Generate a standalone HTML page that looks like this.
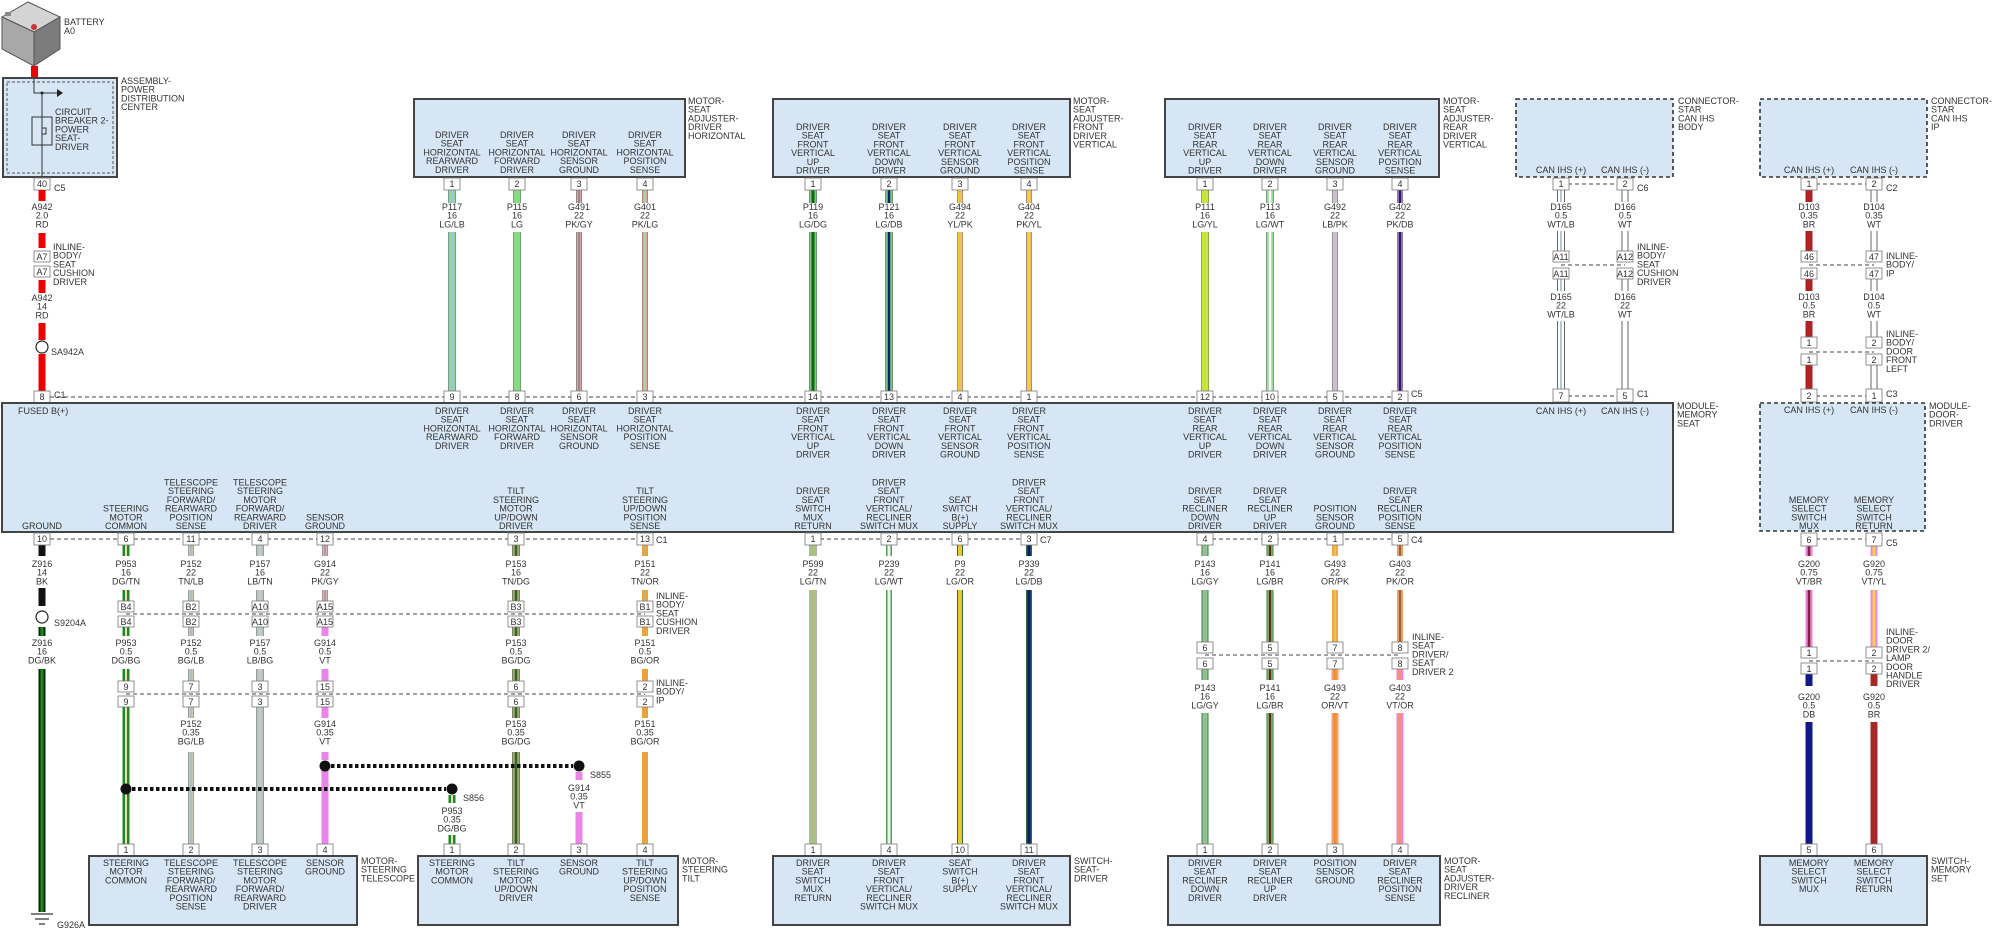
<!DOCTYPE html>
<html><head><meta charset="utf-8"><style>
html,body{margin:0;padding:0;background:#fff}
svg{display:block}
text{font-family:"Liberation Sans",sans-serif;font-size:9px;fill:#333}
.c{text-anchor:middle}
.bx{fill:#d6e6f5;stroke:#444;stroke-width:2}
.dbx{fill:#d6e6f5;stroke:#333;stroke-width:1.6;stroke-dasharray:4 3}
.pin{fill:#fff;stroke:#777;stroke-width:.8}
.dl{stroke:#444;stroke-width:1;stroke-dasharray:4 3;fill:none}
.ol{fill:none;stroke:#666}
.w{fill:none}
</style></head><body>
<svg width="1996" height="930" viewBox="0 0 1996 930" xmlns="http://www.w3.org/2000/svg">
<!-- Battery -->
<polygon points="2,17 28,2 60,17 34,32" fill="#d4d4d4" stroke="#555"/>
<polygon points="2,17 34,32 34,66 2,49" fill="#a8a8a8" stroke="#555"/>
<polygon points="34,32 60,17 60,49 34,66" fill="#7c7c7c" stroke="#555"/>
<circle cx="34" cy="27" r="3" fill="#c33"/>
<rect x="5" y="12" width="6" height="4" fill="#888"/>
<text x="64" y="25">BATTERY</text><text x="64" y="34">A0</text>
<rect x="31" y="66" width="7" height="12" fill="#e00"/>
<!-- PDC -->
<rect x="3" y="78" width="114" height="99" class="bx"/>
<rect x="7" y="82" width="106" height="91" fill="none" stroke="#555" stroke-dasharray="3 2"/>
<path d="M34 78V93H58M42 93V177" stroke="#333" fill="none"/>
<polygon points="57,89 63,93 57,97" fill="#222"/>
<circle cx="42" cy="93" r="1.5" fill="#222"/>
<rect x="32" y="117" width="20" height="28" fill="none" stroke="#333"/>
<path d="M42 117V128H46V134H42V145" stroke="#333" fill="none"/>
<text><tspan x="55" y="115">CIRCUIT</tspan><tspan x="55" dy="8.7">BREAKER 2-</tspan><tspan x="55" dy="8.7">POWER</tspan><tspan x="55" dy="8.7">SEAT-</tspan><tspan x="55" dy="8.7">DRIVER</tspan></text>
<text><tspan x="121" y="84">ASSEMBLY-</tspan><tspan x="121" dy="8.7">POWER</tspan><tspan x="121" dy="8.7">DISTRIBUTION</tspan><tspan x="121" dy="8.7">CENTER</tspan></text>
<!-- left power wire -->
<rect x="34" y="178" width="16" height="12" class="pin"/><text x="42" y="187" class="c">40</text><text x="54" y="191">C5</text>
<path d="M42 190V201M42 233V248M42 280V293M42 323V340M42 354V391" stroke="#e00" stroke-width="7" class="w"/>
<text class="c"><tspan x="42" y="210">A942</tspan><tspan x="42" dy="8.7">2.0</tspan><tspan x="42" dy="8.7">RD</tspan></text>
<rect x="34" y="251" width="16" height="11" class="pin"/><text x="42" y="260" class="c">A7</text>
<rect x="34" y="266" width="16" height="11" class="pin"/><text x="42" y="275" class="c">A7</text>
<text><tspan x="53" y="250">INLINE-</tspan><tspan x="53" dy="8.7">BODY/</tspan><tspan x="53" dy="8.7">SEAT</tspan><tspan x="53" dy="8.7">CUSHION</tspan><tspan x="53" dy="8.7">DRIVER</tspan></text>
<text class="c"><tspan x="42" y="301">A942</tspan><tspan x="42" dy="8.7">14</tspan><tspan x="42" dy="8.7">RD</tspan></text>
<circle cx="42" cy="347" r="6" fill="#fff" stroke="#222" stroke-width="1.2"/><text x="51" y="355">SA942A</text>
<rect x="34" y="391" width="16" height="12" class="pin"/><text x="42" y="400" class="c">8</text><text x="54" y="398">C1</text>

<!-- Motor boxes top -->
<rect x="414" y="99" width="271" height="78" class="bx"/>
<rect x="773" y="99" width="297" height="78" class="bx"/>
<rect x="1165" y="99" width="274" height="78" class="bx"/>
<rect x="1516" y="99" width="157" height="78" class="dbx"/>
<rect x="1760" y="99" width="167" height="78" class="dbx"/>
<text><tspan x="688" y="104">MOTOR-</tspan><tspan x="688" dy="8.7">SEAT</tspan><tspan x="688" dy="8.7">ADJUSTER-</tspan><tspan x="688" dy="8.7">DRIVER</tspan><tspan x="688" dy="8.7">HORIZONTAL</tspan></text>
<text><tspan x="1073" y="104">MOTOR-</tspan><tspan x="1073" dy="8.7">SEAT</tspan><tspan x="1073" dy="8.7">ADJUSTER-</tspan><tspan x="1073" dy="8.7">FRONT</tspan><tspan x="1073" dy="8.7">DRIVER</tspan><tspan x="1073" dy="8.7">VERTICAL</tspan></text>
<text><tspan x="1443" y="104">MOTOR-</tspan><tspan x="1443" dy="8.7">SEAT</tspan><tspan x="1443" dy="8.7">ADJUSTER-</tspan><tspan x="1443" dy="8.7">REAR</tspan><tspan x="1443" dy="8.7">DRIVER</tspan><tspan x="1443" dy="8.7">VERTICAL</tspan></text>
<text><tspan x="1678" y="104">CONNECTOR-</tspan><tspan x="1678" dy="8.7">STAR</tspan><tspan x="1678" dy="8.7">CAN IHS</tspan><tspan x="1678" dy="8.7">BODY</tspan></text>
<text><tspan x="1931" y="104">CONNECTOR-</tspan><tspan x="1931" dy="8.7">STAR</tspan><tspan x="1931" dy="8.7">CAN IHS</tspan><tspan x="1931" dy="8.7">IP</tspan></text>

<!-- horizontal motor labels -->
<text class="c"><tspan x="452" y="138">DRIVER</tspan><tspan x="452" dy="8.7">SEAT</tspan><tspan x="452" dy="8.7">HORIZONTAL</tspan><tspan x="452" dy="8.7">REARWARD</tspan><tspan x="452" dy="8.7">DRIVER</tspan></text>
<text class="c"><tspan x="517" y="138">DRIVER</tspan><tspan x="517" dy="8.7">SEAT</tspan><tspan x="517" dy="8.7">HORIZONTAL</tspan><tspan x="517" dy="8.7">FORWARD</tspan><tspan x="517" dy="8.7">DRIVER</tspan></text>
<text class="c"><tspan x="579" y="138">DRIVER</tspan><tspan x="579" dy="8.7">SEAT</tspan><tspan x="579" dy="8.7">HORIZONTAL</tspan><tspan x="579" dy="8.7">SENSOR</tspan><tspan x="579" dy="8.7">GROUND</tspan></text>
<text class="c"><tspan x="645" y="138">DRIVER</tspan><tspan x="645" dy="8.7">SEAT</tspan><tspan x="645" dy="8.7">HORIZONTAL</tspan><tspan x="645" dy="8.7">POSITION</tspan><tspan x="645" dy="8.7">SENSE</tspan></text>
<!-- front vertical labels -->
<text class="c"><tspan x="813" y="130">DRIVER</tspan><tspan x="813" dy="8.7">SEAT</tspan><tspan x="813" dy="8.7">FRONT</tspan><tspan x="813" dy="8.7">VERTICAL</tspan><tspan x="813" dy="8.7">UP</tspan><tspan x="813" dy="8.7">DRIVER</tspan></text>
<text class="c"><tspan x="889" y="130">DRIVER</tspan><tspan x="889" dy="8.7">SEAT</tspan><tspan x="889" dy="8.7">FRONT</tspan><tspan x="889" dy="8.7">VERTICAL</tspan><tspan x="889" dy="8.7">DOWN</tspan><tspan x="889" dy="8.7">DRIVER</tspan></text>
<text class="c"><tspan x="960" y="130">DRIVER</tspan><tspan x="960" dy="8.7">SEAT</tspan><tspan x="960" dy="8.7">FRONT</tspan><tspan x="960" dy="8.7">VERTICAL</tspan><tspan x="960" dy="8.7">SENSOR</tspan><tspan x="960" dy="8.7">GROUND</tspan></text>
<text class="c"><tspan x="1029" y="130">DRIVER</tspan><tspan x="1029" dy="8.7">SEAT</tspan><tspan x="1029" dy="8.7">FRONT</tspan><tspan x="1029" dy="8.7">VERTICAL</tspan><tspan x="1029" dy="8.7">POSITION</tspan><tspan x="1029" dy="8.7">SENSE</tspan></text>
<!-- rear vertical labels -->
<text class="c"><tspan x="1205" y="130">DRIVER</tspan><tspan x="1205" dy="8.7">SEAT</tspan><tspan x="1205" dy="8.7">REAR</tspan><tspan x="1205" dy="8.7">VERTICAL</tspan><tspan x="1205" dy="8.7">UP</tspan><tspan x="1205" dy="8.7">DRIVER</tspan></text>
<text class="c"><tspan x="1270" y="130">DRIVER</tspan><tspan x="1270" dy="8.7">SEAT</tspan><tspan x="1270" dy="8.7">REAR</tspan><tspan x="1270" dy="8.7">VERTICAL</tspan><tspan x="1270" dy="8.7">DOWN</tspan><tspan x="1270" dy="8.7">DRIVER</tspan></text>
<text class="c"><tspan x="1335" y="130">DRIVER</tspan><tspan x="1335" dy="8.7">SEAT</tspan><tspan x="1335" dy="8.7">REAR</tspan><tspan x="1335" dy="8.7">VERTICAL</tspan><tspan x="1335" dy="8.7">SENSOR</tspan><tspan x="1335" dy="8.7">GROUND</tspan></text>
<text class="c"><tspan x="1400" y="130">DRIVER</tspan><tspan x="1400" dy="8.7">SEAT</tspan><tspan x="1400" dy="8.7">REAR</tspan><tspan x="1400" dy="8.7">VERTICAL</tspan><tspan x="1400" dy="8.7">POSITION</tspan><tspan x="1400" dy="8.7">SENSE</tspan></text>
<text class="c" x="1561" y="173">CAN IHS (+)</text><text class="c" x="1625" y="173">CAN IHS (-)</text>
<text class="c" x="1809" y="173">CAN IHS (+)</text><text class="c" x="1874" y="173">CAN IHS (-)</text>

<!-- upper dashed rows -->
<path d="M50 397H1400" class="dl"/>
<path d="M1561 184H1625M1561 265H1625M1561 396H1625M1809 184H1874M1809 265H1874M1809 352H1874M1809 396H1874" class="dl"/>

<!-- upper wires -->
<g class="w">
<path d="M452 190V203M452 232V391" stroke="#666" stroke-width="8"/><path d="M452 190V203M452 232V391" stroke="#8fd6a4" stroke-width="7"/><path d="M452 190V203M452 232V391" stroke="#9cc8dc" stroke-width="2"/>
<path d="M517 190V203M517 232V391" stroke="#666" stroke-width="8"/><path d="M517 190V203M517 232V391" stroke="#86dc80" stroke-width="7"/>
<path d="M579 190V203M579 232V391" stroke="#666" stroke-width="6"/><path d="M579 190V203M579 232V391" stroke="#d8a0a8" stroke-width="5"/><path d="M579 190V203M579 232V391" stroke="#888" stroke-width="1.6"/>
<path d="M645 190V203M645 232V391" stroke="#666" stroke-width="6"/><path d="M645 190V203M645 232V391" stroke="#e0a8a8" stroke-width="5"/><path d="M645 190V203M645 232V391" stroke="#a8d890" stroke-width="2"/>
<path d="M813 190V203M813 232V391" stroke="#666" stroke-width="8"/><path d="M813 190V203M813 232V391" stroke="#7cc87c" stroke-width="7"/><path d="M813 190V203M813 232V391" stroke="#0c6a10" stroke-width="3"/>
<path d="M889 190V203M889 232V391" stroke="#666" stroke-width="8"/><path d="M889 190V203M889 232V391" stroke="#7cc87c" stroke-width="7"/><path d="M889 190V203M889 232V391" stroke="#10207a" stroke-width="2.5"/>
<path d="M960 190V203M960 232V391" stroke="#666" stroke-width="6"/><path d="M960 190V203M960 232V391" stroke="#f6d030" stroke-width="5"/><path d="M960 190V203M960 232V391" stroke="#e8a8a0" stroke-width="1.5"/>
<path d="M1029 190V203M1029 232V391" stroke="#666" stroke-width="6"/><path d="M1029 190V203M1029 232V391" stroke="#f0b0a0" stroke-width="5"/><path d="M1029 190V203M1029 232V391" stroke="#f6d030" stroke-width="3"/>
<path d="M1205 190V203M1205 232V391" stroke="#666" stroke-width="8"/><path d="M1205 190V203M1205 232V391" stroke="#c6e63c" stroke-width="7"/>
<path d="M1270 190V203M1270 232V391" stroke="#666" stroke-width="8"/><path d="M1270 190V203M1270 232V391" stroke="#98d898" stroke-width="7"/><path d="M1270 190V203M1270 232V391" stroke="#fff" stroke-width="2.5"/>
<path d="M1335 190V203M1335 232V391" stroke="#666" stroke-width="6"/><path d="M1335 190V203M1335 232V391" stroke="#c4c4d4" stroke-width="5"/><path d="M1335 190V203M1335 232V391" stroke="#e4b4c4" stroke-width="1.5"/>
<path d="M1400 190V203M1400 232V391" stroke="#666" stroke-width="6"/><path d="M1400 190V203M1400 232V391" stroke="#c090c0" stroke-width="5"/><path d="M1400 190V203M1400 232V391" stroke="#2a1480" stroke-width="2.5"/>
<!-- CAN body -->
<path d="M1561 190V202M1561 231V251M1561 278V291M1561 321V389" stroke="#666" stroke-width="8"/><path d="M1561 190V202M1561 231V251M1561 278V291M1561 321V389" stroke="#fff" stroke-width="6"/><path d="M1561 190V202M1561 231V251M1561 278V291M1561 321V389" stroke="#a8ccd8" stroke-width="2"/>
<path d="M1625 190V202M1625 231V251M1625 278V291M1625 321V389" stroke="#666" stroke-width="7"/><path d="M1625 190V202M1625 231V251M1625 278V291M1625 321V389" stroke="#fff" stroke-width="5"/>
<!-- CAN IP -->
<path d="M1809 190V202M1809 231V251M1809 278V291M1809 321V337M1809 365V389" stroke="#b02024" stroke-width="7"/>
<path d="M1874 190V202M1874 231V251M1874 278V291M1874 321V337M1874 365V389" stroke="#666" stroke-width="7"/><path d="M1874 190V202M1874 231V251M1874 278V291M1874 321V337M1874 365V389" stroke="#fff" stroke-width="5"/>
</g>
<!-- upper pins -->
<g>
<rect x="444" y="178" width="16" height="12" class="pin"/><text x="452" y="187" class="c">1</text>
<rect x="509" y="178" width="16" height="12" class="pin"/><text x="517" y="187" class="c">2</text>
<rect x="571" y="178" width="16" height="12" class="pin"/><text x="579" y="187" class="c">3</text>
<rect x="637" y="178" width="16" height="12" class="pin"/><text x="645" y="187" class="c">4</text>
<rect x="805" y="178" width="16" height="12" class="pin"/><text x="813" y="187" class="c">1</text>
<rect x="881" y="178" width="16" height="12" class="pin"/><text x="889" y="187" class="c">2</text>
<rect x="952" y="178" width="16" height="12" class="pin"/><text x="960" y="187" class="c">3</text>
<rect x="1021" y="178" width="16" height="12" class="pin"/><text x="1029" y="187" class="c">4</text>
<rect x="1197" y="178" width="16" height="12" class="pin"/><text x="1205" y="187" class="c">1</text>
<rect x="1262" y="178" width="16" height="12" class="pin"/><text x="1270" y="187" class="c">2</text>
<rect x="1327" y="178" width="16" height="12" class="pin"/><text x="1335" y="187" class="c">3</text>
<rect x="1392" y="178" width="16" height="12" class="pin"/><text x="1400" y="187" class="c">4</text>
<rect x="1553" y="178" width="16" height="12" class="pin"/><text x="1561" y="187" class="c">1</text>
<rect x="1617" y="178" width="16" height="12" class="pin"/><text x="1625" y="187" class="c">2</text><text x="1637" y="191">C6</text>
<rect x="1801" y="178" width="16" height="12" class="pin"/><text x="1809" y="187" class="c">1</text>
<rect x="1866" y="178" width="16" height="12" class="pin"/><text x="1874" y="187" class="c">2</text><text x="1886" y="191">C2</text>

<rect x="444" y="391" width="16" height="12" class="pin"/><text x="452" y="400" class="c">9</text>
<rect x="509" y="391" width="16" height="12" class="pin"/><text x="517" y="400" class="c">8</text>
<rect x="571" y="391" width="16" height="12" class="pin"/><text x="579" y="400" class="c">6</text>
<rect x="637" y="391" width="16" height="12" class="pin"/><text x="645" y="400" class="c">3</text>
<rect x="805" y="391" width="16" height="12" class="pin"/><text x="813" y="400" class="c">14</text>
<rect x="881" y="391" width="16" height="12" class="pin"/><text x="889" y="400" class="c">13</text>
<rect x="952" y="391" width="16" height="12" class="pin"/><text x="960" y="400" class="c">4</text>
<rect x="1021" y="391" width="16" height="12" class="pin"/><text x="1029" y="400" class="c">1</text>
<rect x="1197" y="391" width="16" height="12" class="pin"/><text x="1205" y="400" class="c">12</text>
<rect x="1262" y="391" width="16" height="12" class="pin"/><text x="1270" y="400" class="c">10</text>
<rect x="1327" y="391" width="16" height="12" class="pin"/><text x="1335" y="400" class="c">5</text>
<rect x="1392" y="391" width="16" height="12" class="pin"/><text x="1400" y="400" class="c">2</text><text x="1411" y="397">C5</text>
<rect x="1553" y="389" width="16" height="13" class="pin"/><text x="1561" y="399" class="c">7</text>
<rect x="1617" y="389" width="16" height="13" class="pin"/><text x="1625" y="399" class="c">5</text><text x="1637" y="397">C1</text>
<rect x="1801" y="389" width="16" height="13" class="pin"/><text x="1809" y="399" class="c">2</text>
<rect x="1866" y="389" width="16" height="13" class="pin"/><text x="1874" y="399" class="c">1</text><text x="1886" y="397">C3</text>
<!-- CAN inline -->
<rect x="1553" y="251" width="16" height="11" class="pin"/><text x="1561" y="260" class="c">A11</text>
<rect x="1553" y="268" width="16" height="11" class="pin"/><text x="1561" y="277" class="c">A11</text>
<rect x="1617" y="251" width="16" height="11" class="pin"/><text x="1625" y="260" class="c">A12</text>
<rect x="1617" y="268" width="16" height="11" class="pin"/><text x="1625" y="277" class="c">A12</text>
<rect x="1801" y="251" width="16" height="11" class="pin"/><text x="1809" y="260" class="c">46</text>
<rect x="1801" y="268" width="16" height="11" class="pin"/><text x="1809" y="277" class="c">46</text>
<rect x="1866" y="251" width="16" height="11" class="pin"/><text x="1874" y="260" class="c">47</text>
<rect x="1866" y="268" width="16" height="11" class="pin"/><text x="1874" y="277" class="c">47</text>
<rect x="1801" y="337" width="16" height="11" class="pin"/><text x="1809" y="346" class="c">1</text>
<rect x="1801" y="354" width="16" height="11" class="pin"/><text x="1809" y="363" class="c">1</text>
<rect x="1866" y="337" width="16" height="11" class="pin"/><text x="1874" y="346" class="c">2</text>
<rect x="1866" y="354" width="16" height="11" class="pin"/><text x="1874" y="363" class="c">2</text>
</g>
<text><tspan x="1637" y="250">INLINE-</tspan><tspan x="1637" dy="8.7">BODY/</tspan><tspan x="1637" dy="8.7">SEAT</tspan><tspan x="1637" dy="8.7">CUSHION</tspan><tspan x="1637" dy="8.7">DRIVER</tspan></text>
<text><tspan x="1886" y="259">INLINE-</tspan><tspan x="1886" dy="8.7">BODY/</tspan><tspan x="1886" dy="8.7">IP</tspan></text>
<text><tspan x="1886" y="337">INLINE-</tspan><tspan x="1886" dy="8.7">BODY/</tspan><tspan x="1886" dy="8.7">DOOR</tspan><tspan x="1886" dy="8.7">FRONT</tspan><tspan x="1886" dy="8.7">LEFT</tspan></text>

<!-- upper wire labels -->
<g class="c">
<text><tspan x="452" y="210">P117</tspan><tspan x="452" dy="8.7">16</tspan><tspan x="452" dy="8.7">LG/LB</tspan></text>
<text><tspan x="517" y="210">P115</tspan><tspan x="517" dy="8.7">16</tspan><tspan x="517" dy="8.7">LG</tspan></text>
<text><tspan x="579" y="210">G491</tspan><tspan x="579" dy="8.7">22</tspan><tspan x="579" dy="8.7">PK/GY</tspan></text>
<text><tspan x="645" y="210">G401</tspan><tspan x="645" dy="8.7">22</tspan><tspan x="645" dy="8.7">PK/LG</tspan></text>
<text><tspan x="813" y="210">P119</tspan><tspan x="813" dy="8.7">16</tspan><tspan x="813" dy="8.7">LG/DG</tspan></text>
<text><tspan x="889" y="210">P121</tspan><tspan x="889" dy="8.7">16</tspan><tspan x="889" dy="8.7">LG/DB</tspan></text>
<text><tspan x="960" y="210">G494</tspan><tspan x="960" dy="8.7">22</tspan><tspan x="960" dy="8.7">YL/PK</tspan></text>
<text><tspan x="1029" y="210">G404</tspan><tspan x="1029" dy="8.7">22</tspan><tspan x="1029" dy="8.7">PK/YL</tspan></text>
<text><tspan x="1205" y="210">P111</tspan><tspan x="1205" dy="8.7">16</tspan><tspan x="1205" dy="8.7">LG/YL</tspan></text>
<text><tspan x="1270" y="210">P113</tspan><tspan x="1270" dy="8.7">16</tspan><tspan x="1270" dy="8.7">LG/WT</tspan></text>
<text><tspan x="1335" y="210">G492</tspan><tspan x="1335" dy="8.7">22</tspan><tspan x="1335" dy="8.7">LB/PK</tspan></text>
<text><tspan x="1400" y="210">G402</tspan><tspan x="1400" dy="8.7">22</tspan><tspan x="1400" dy="8.7">PK/DB</tspan></text>
<text><tspan x="1561" y="210">D165</tspan><tspan x="1561" dy="8.7">0.5</tspan><tspan x="1561" dy="8.7">WT/LB</tspan></text>
<text><tspan x="1625" y="210">D166</tspan><tspan x="1625" dy="8.7">0.5</tspan><tspan x="1625" dy="8.7">WT</tspan></text>
<text><tspan x="1809" y="210">D103</tspan><tspan x="1809" dy="8.7">0.35</tspan><tspan x="1809" dy="8.7">BR</tspan></text>
<text><tspan x="1874" y="210">D104</tspan><tspan x="1874" dy="8.7">0.35</tspan><tspan x="1874" dy="8.7">WT</tspan></text>
<text><tspan x="1561" y="300">D165</tspan><tspan x="1561" dy="8.7">22</tspan><tspan x="1561" dy="8.7">WT/LB</tspan></text>
<text><tspan x="1625" y="300">D166</tspan><tspan x="1625" dy="8.7">22</tspan><tspan x="1625" dy="8.7">WT</tspan></text>
<text><tspan x="1809" y="300">D103</tspan><tspan x="1809" dy="8.7">0.5</tspan><tspan x="1809" dy="8.7">BR</tspan></text>
<text><tspan x="1874" y="300">D104</tspan><tspan x="1874" dy="8.7">0.5</tspan><tspan x="1874" dy="8.7">WT</tspan></text>
</g>

<!-- Module memory seat -->
<rect x="2" y="403" width="1671" height="129" class="bx"/>
<text><tspan x="1677" y="409">MODULE-</tspan><tspan x="1677" dy="8.7">MEMORY</tspan><tspan x="1677" dy="8.7">SEAT</tspan></text>
<text x="18" y="414">FUSED B(+)</text>
<text class="c" x="42" y="529">GROUND</text>
<g class="c">
<text><tspan x="452" y="414">DRIVER</tspan><tspan x="452" dy="8.7">SEAT</tspan><tspan x="452" dy="8.7">HORIZONTAL</tspan><tspan x="452" dy="8.7">REARWARD</tspan><tspan x="452" dy="8.7">DRIVER</tspan></text>
<text><tspan x="517" y="414">DRIVER</tspan><tspan x="517" dy="8.7">SEAT</tspan><tspan x="517" dy="8.7">HORIZONTAL</tspan><tspan x="517" dy="8.7">FORWARD</tspan><tspan x="517" dy="8.7">DRIVER</tspan></text>
<text><tspan x="579" y="414">DRIVER</tspan><tspan x="579" dy="8.7">SEAT</tspan><tspan x="579" dy="8.7">HORIZONTAL</tspan><tspan x="579" dy="8.7">SENSOR</tspan><tspan x="579" dy="8.7">GROUND</tspan></text>
<text><tspan x="645" y="414">DRIVER</tspan><tspan x="645" dy="8.7">SEAT</tspan><tspan x="645" dy="8.7">HORIZONTAL</tspan><tspan x="645" dy="8.7">POSITION</tspan><tspan x="645" dy="8.7">SENSE</tspan></text>
<text><tspan x="813" y="414">DRIVER</tspan><tspan x="813" dy="8.7">SEAT</tspan><tspan x="813" dy="8.7">FRONT</tspan><tspan x="813" dy="8.7">VERTICAL</tspan><tspan x="813" dy="8.7">UP</tspan><tspan x="813" dy="8.7">DRIVER</tspan></text>
<text><tspan x="889" y="414">DRIVER</tspan><tspan x="889" dy="8.7">SEAT</tspan><tspan x="889" dy="8.7">FRONT</tspan><tspan x="889" dy="8.7">VERTICAL</tspan><tspan x="889" dy="8.7">DOWN</tspan><tspan x="889" dy="8.7">DRIVER</tspan></text>
<text><tspan x="960" y="414">DRIVER</tspan><tspan x="960" dy="8.7">SEAT</tspan><tspan x="960" dy="8.7">FRONT</tspan><tspan x="960" dy="8.7">VERTICAL</tspan><tspan x="960" dy="8.7">SENSOR</tspan><tspan x="960" dy="8.7">GROUND</tspan></text>
<text><tspan x="1029" y="414">DRIVER</tspan><tspan x="1029" dy="8.7">SEAT</tspan><tspan x="1029" dy="8.7">FRONT</tspan><tspan x="1029" dy="8.7">VERTICAL</tspan><tspan x="1029" dy="8.7">POSITION</tspan><tspan x="1029" dy="8.7">SENSE</tspan></text>
<text><tspan x="1205" y="414">DRIVER</tspan><tspan x="1205" dy="8.7">SEAT</tspan><tspan x="1205" dy="8.7">REAR</tspan><tspan x="1205" dy="8.7">VERTICAL</tspan><tspan x="1205" dy="8.7">UP</tspan><tspan x="1205" dy="8.7">DRIVER</tspan></text>
<text><tspan x="1270" y="414">DRIVER</tspan><tspan x="1270" dy="8.7">SEAT</tspan><tspan x="1270" dy="8.7">REAR</tspan><tspan x="1270" dy="8.7">VERTICAL</tspan><tspan x="1270" dy="8.7">DOWN</tspan><tspan x="1270" dy="8.7">DRIVER</tspan></text>
<text><tspan x="1335" y="414">DRIVER</tspan><tspan x="1335" dy="8.7">SEAT</tspan><tspan x="1335" dy="8.7">REAR</tspan><tspan x="1335" dy="8.7">VERTICAL</tspan><tspan x="1335" dy="8.7">SENSOR</tspan><tspan x="1335" dy="8.7">GROUND</tspan></text>
<text><tspan x="1400" y="414">DRIVER</tspan><tspan x="1400" dy="8.7">SEAT</tspan><tspan x="1400" dy="8.7">REAR</tspan><tspan x="1400" dy="8.7">VERTICAL</tspan><tspan x="1400" dy="8.7">POSITION</tspan><tspan x="1400" dy="8.7">SENSE</tspan></text>
<text x="1561" y="414">CAN IHS (+)</text><text x="1625" y="414">CAN IHS (-)</text>
<!-- lower module labels -->
<text><tspan x="126" y="511.6">STEERING</tspan><tspan x="126" dy="8.7">MOTOR</tspan><tspan x="126" dy="8.7">COMMON</tspan></text>
<text><tspan x="191" y="485.5">TELESCOPE</tspan><tspan x="191" dy="8.7">STEERING</tspan><tspan x="191" dy="8.7">FORWARD/</tspan><tspan x="191" dy="8.7">REARWARD</tspan><tspan x="191" dy="8.7">POSITION</tspan><tspan x="191" dy="8.7">SENSE</tspan></text>
<text><tspan x="260" y="485.5">TELESCOPE</tspan><tspan x="260" dy="8.7">STEERING</tspan><tspan x="260" dy="8.7">MOTOR</tspan><tspan x="260" dy="8.7">FORWARD/</tspan><tspan x="260" dy="8.7">REARWARD</tspan><tspan x="260" dy="8.7">DRIVER</tspan></text>
<text><tspan x="325" y="520.3">SENSOR</tspan><tspan x="325" dy="8.7">GROUND</tspan></text>
<text><tspan x="516" y="494.2">TILT</tspan><tspan x="516" dy="8.7">STEERING</tspan><tspan x="516" dy="8.7">MOTOR</tspan><tspan x="516" dy="8.7">UP/DOWN</tspan><tspan x="516" dy="8.7">DRIVER</tspan></text>
<text><tspan x="645" y="494.2">TILT</tspan><tspan x="645" dy="8.7">STEERING</tspan><tspan x="645" dy="8.7">UP/DOWN</tspan><tspan x="645" dy="8.7">POSITION</tspan><tspan x="645" dy="8.7">SENSE</tspan></text>
<text><tspan x="813" y="494.2">DRIVER</tspan><tspan x="813" dy="8.7">SEAT</tspan><tspan x="813" dy="8.7">SWITCH</tspan><tspan x="813" dy="8.7">MUX</tspan><tspan x="813" dy="8.7">RETURN</tspan></text>
<text><tspan x="889" y="485.5">DRIVER</tspan><tspan x="889" dy="8.7">SEAT</tspan><tspan x="889" dy="8.7">FRONT</tspan><tspan x="889" dy="8.7">VERTICAL/</tspan><tspan x="889" dy="8.7">RECLINER</tspan><tspan x="889" dy="8.7">SWITCH MUX</tspan></text>
<text><tspan x="960" y="502.9">SEAT</tspan><tspan x="960" dy="8.7">SWITCH</tspan><tspan x="960" dy="8.7">B(+)</tspan><tspan x="960" dy="8.7">SUPPLY</tspan></text>
<text><tspan x="1029" y="485.5">DRIVER</tspan><tspan x="1029" dy="8.7">SEAT</tspan><tspan x="1029" dy="8.7">FRONT</tspan><tspan x="1029" dy="8.7">VERTICAL/</tspan><tspan x="1029" dy="8.7">RECLINER</tspan><tspan x="1029" dy="8.7">SWITCH MUX</tspan></text>
<text><tspan x="1205" y="494.2">DRIVER</tspan><tspan x="1205" dy="8.7">SEAT</tspan><tspan x="1205" dy="8.7">RECLINER</tspan><tspan x="1205" dy="8.7">DOWN</tspan><tspan x="1205" dy="8.7">DRIVER</tspan></text>
<text><tspan x="1270" y="494.2">DRIVER</tspan><tspan x="1270" dy="8.7">SEAT</tspan><tspan x="1270" dy="8.7">RECLINER</tspan><tspan x="1270" dy="8.7">UP</tspan><tspan x="1270" dy="8.7">DRIVER</tspan></text>
<text><tspan x="1335" y="511.6">POSITION</tspan><tspan x="1335" dy="8.7">SENSOR</tspan><tspan x="1335" dy="8.7">GROUND</tspan></text>
<text><tspan x="1400" y="494.2">DRIVER</tspan><tspan x="1400" dy="8.7">SEAT</tspan><tspan x="1400" dy="8.7">RECLINER</tspan><tspan x="1400" dy="8.7">POSITION</tspan><tspan x="1400" dy="8.7">SENSE</tspan></text>
</g>

<!-- Module door driver -->
<rect x="1760" y="403" width="165" height="128" class="dbx"/>
<text><tspan x="1929" y="409">MODULE-</tspan><tspan x="1929" dy="8.7">DOOR-</tspan><tspan x="1929" dy="8.7">DRIVER</tspan></text>
<g class="c">
<text x="1809" y="413">CAN IHS (+)</text><text x="1874" y="413">CAN IHS (-)</text>
<text><tspan x="1809" y="503">MEMORY</tspan><tspan x="1809" dy="8.7">SELECT</tspan><tspan x="1809" dy="8.7">SWITCH</tspan><tspan x="1809" dy="8.7">MUX</tspan></text>
<text><tspan x="1874" y="503">MEMORY</tspan><tspan x="1874" dy="8.7">SELECT</tspan><tspan x="1874" dy="8.7">SWITCH</tspan><tspan x="1874" dy="8.7">RETURN</tspan></text>
</g>

<!-- lower dashed rows -->
<path d="M50 539H645M813 539H1029M1205 539H1400M1809 539H1874" class="dl"/>
<path d="M126 614H645M126 694H645M1205 655H1400M1809 661H1874" class="dl"/>
<text x="656" y="543">C1</text><text x="1040" y="543">C7</text><text x="1411" y="543">C4</text><text x="1886" y="546">C5</text>
<text><tspan x="656" y="599">INLINE-</tspan><tspan x="656" dy="8.7">BODY/</tspan><tspan x="656" dy="8.7">SEAT</tspan><tspan x="656" dy="8.7">CUSHION</tspan><tspan x="656" dy="8.7">DRIVER</tspan></text>
<text><tspan x="656" y="686">INLINE-</tspan><tspan x="656" dy="8.7">BODY/</tspan><tspan x="656" dy="8.7">IP</tspan></text>
<text><tspan x="1412" y="640">INLINE-</tspan><tspan x="1412" dy="8.7">SEAT</tspan><tspan x="1412" dy="8.7">DRIVER/</tspan><tspan x="1412" dy="8.7">SEAT</tspan><tspan x="1412" dy="8.7">DRIVER 2</tspan></text>
<text><tspan x="1886" y="635">INLINE-</tspan><tspan x="1886" dy="8.7">DOOR</tspan><tspan x="1886" dy="8.7">DRIVER 2/</tspan><tspan x="1886" dy="8.7">LAMP</tspan><tspan x="1886" dy="8.7">DOOR</tspan><tspan x="1886" dy="8.7">HANDLE</tspan><tspan x="1886" dy="8.7">DRIVER</tspan></text>

<!-- lower wires -->
<g class="w">
<!-- ground -->
<path d="M42 545V556M42 588V606" stroke="#111" stroke-width="7"/>
<path d="M42 627V636M42 669V912" stroke="#0a2a0a" stroke-width="7"/><path d="M42 627V636M42 669V912" stroke="#1d8a1d" stroke-width="3"/>
<!-- 126 -->
<path d="M126 545V556M126 590V601M126 627V636M126 669V681M126 707V844" stroke="#1f8a1f" stroke-width="7"/><path d="M126 545V556M126 590V601M126 627V636M126 669V681M126 707V844" stroke="#e6e0b8" stroke-width="2"/>
<!-- 191 -->
<path d="M191 545V556M191 590V601M191 627V636M191 669V681M191 707V718M191 752V844" stroke="#777" stroke-width="6"/><path d="M191 545V556M191 590V601M191 627V636M191 669V681M191 707V718M191 752V844" stroke="#c8c8b4" stroke-width="5"/><path d="M191 545V556M191 590V601M191 627V636M191 669V681M191 707V718M191 752V844" stroke="#a8bcc8" stroke-width="1.6"/>
<!-- 260 -->
<path d="M260 545V556M260 590V601M260 627V636M260 669V681M260 707V844" stroke="#777" stroke-width="8"/><path d="M260 545V556M260 590V601M260 627V636M260 669V681M260 707V844" stroke="#b4c4c8" stroke-width="7"/><path d="M260 545V556M260 590V601M260 627V636M260 669V681M260 707V844" stroke="#d0ccb0" stroke-width="2"/>
<!-- 325 -->
<path d="M325 545V556M325 590V601" stroke="#777" stroke-width="6"/><path d="M325 545V556M325 590V601" stroke="#e0b0b8" stroke-width="5"/><path d="M325 545V556M325 590V601" stroke="#999" stroke-width="1.5"/>
<path d="M325 627V636M325 669V681M325 707V718M325 752V760M325 770V844" stroke="#ea84e8" stroke-width="7"/>
<!-- 516 -->
<path d="M516 545V556M516 590V601M516 627V636M516 669V681M516 707V718M516 752V844" stroke="#555" stroke-width="8"/><path d="M516 545V556M516 590V601M516 627V636M516 669V681M516 707V718M516 752V844" stroke="#a8a870" stroke-width="7"/><path d="M516 545V556M516 590V601M516 627V636M516 669V681M516 707V718M516 752V844" stroke="#2a6a2a" stroke-width="2.5"/>
<!-- 645 -->
<path d="M645 545V556M645 590V601M645 627V636M645 669V681M645 707V718M645 752V844" stroke="#e8a438" stroke-width="6"/><path d="M645 545V556M645 590V601" stroke="#c8b070" stroke-width="2"/>
<!-- 452 / 579 -->
<path d="M452 795V803M452 835V844" stroke="#1f8a1f" stroke-width="7"/><path d="M452 795V803M452 835V844" stroke="#e6e0b8" stroke-width="2"/>
<path d="M579 772V780M579 812V844" stroke="#ea84e8" stroke-width="7"/>
<!-- C7 -->
<path d="M813 545V556M813 590V844" stroke="#666" stroke-width="7"/><path d="M813 545V556M813 590V844" stroke="#9cc884" stroke-width="6"/><path d="M813 545V556M813 590V844" stroke="#c4b080" stroke-width="2"/>
<path d="M889 545V556M889 590V844" stroke="#5a9a5a" stroke-width="6"/><path d="M889 545V556M889 590V844" stroke="#e8f8e8" stroke-width="3"/>
<path d="M960 545V556M960 590V844" stroke="#3a6a3a" stroke-width="6"/><path d="M960 545V556M960 590V844" stroke="#e8c830" stroke-width="4"/>
<path d="M1029 545V556M1029 590V844" stroke="#2a6a4a" stroke-width="6"/><path d="M1029 545V556M1029 590V844" stroke="#0c1c6a" stroke-width="3"/>
<!-- C4 -->
<path d="M1205 545V556M1205 590V642M1205 669V680M1205 713V844" stroke="#3a7a3a" stroke-width="7"/><path d="M1205 545V556M1205 590V642M1205 669V680M1205 713V844" stroke="#8ccc8c" stroke-width="5"/><path d="M1205 545V556M1205 590V642M1205 669V680M1205 713V844" stroke="#aaa" stroke-width="1.5"/>
<path d="M1270 545V556M1270 590V642M1270 669V680M1270 713V844" stroke="#3a7a3a" stroke-width="7"/><path d="M1270 545V556M1270 590V642M1270 669V680M1270 713V844" stroke="#8ccc8c" stroke-width="5"/><path d="M1270 545V556M1270 590V642M1270 669V680M1270 713V844" stroke="#5a2e0e" stroke-width="2.5"/>
<path d="M1335 545V556M1335 590V642" stroke="#f0a838" stroke-width="6"/><path d="M1335 545V556M1335 590V642" stroke="#f4c070" stroke-width="1.5"/>
<path d="M1335 669V680M1335 713V844" stroke="#f4a070" stroke-width="7"/><path d="M1335 669V680M1335 713V844" stroke="#f09030" stroke-width="3"/>
<path d="M1400 545V556M1400 590V642" stroke="#e8a060" stroke-width="6"/><path d="M1400 545V556M1400 590V642" stroke="#9a6040" stroke-width="2"/>
<path d="M1400 669V680M1400 713V844" stroke="#ee84e0" stroke-width="7"/><path d="M1400 669V680M1400 713V844" stroke="#f49080" stroke-width="4"/>
<!-- memory -->
<path d="M1809 546V556M1809 590V647" stroke="#ea84d8" stroke-width="7"/><path d="M1809 546V556M1809 590V647" stroke="#8a1c3c" stroke-width="2.5"/>
<path d="M1809 673V686M1809 722V844" stroke="#101888" stroke-width="7"/>
<path d="M1874 546V556M1874 590V647" stroke="#ea84e8" stroke-width="7"/><path d="M1874 546V556M1874 590V647" stroke="#f8d040" stroke-width="3"/>
<path d="M1874 673V686M1874 722V844" stroke="#a82828" stroke-width="7"/>
</g>
<!-- splices -->
<path d="M331 766H573" stroke="#111" stroke-width="4" stroke-dasharray="3.5 2.5" fill="none"/>
<path d="M132 789H446" stroke="#111" stroke-width="4" stroke-dasharray="3.5 2.5" fill="none"/>
<circle cx="325" cy="766" r="5.5" fill="#111"/><circle cx="579" cy="766" r="5.5" fill="#111"/>
<circle cx="126" cy="789" r="5.5" fill="#111"/><circle cx="452" cy="789" r="5.5" fill="#111"/>
<text x="590" y="778">S855</text><text x="463" y="801">S856</text>
<!-- ground splice / symbol -->
<circle cx="42" cy="617" r="6" fill="#fff" stroke="#222" stroke-width="1.2"/><text x="54" y="626">S9204A</text>
<path d="M31 914H53M35 919H49M39 924H45" stroke="#333" stroke-width="1.2"/>
<text x="57" y="928">G926A</text>

<!-- lower wire labels -->
<g class="c">
<text><tspan x="42" y="567">Z916</tspan><tspan x="42" dy="8.7">14</tspan><tspan x="42" dy="8.7">BK</tspan></text>
<text><tspan x="42" y="646">Z916</tspan><tspan x="42" dy="8.7">16</tspan><tspan x="42" dy="8.7">DG/BK</tspan></text>
<text><tspan x="126" y="567">P953</tspan><tspan x="126" dy="8.7">16</tspan><tspan x="126" dy="8.7">DG/TN</tspan></text>
<text><tspan x="191" y="567">P152</tspan><tspan x="191" dy="8.7">22</tspan><tspan x="191" dy="8.7">TN/LB</tspan></text>
<text><tspan x="260" y="567">P157</tspan><tspan x="260" dy="8.7">16</tspan><tspan x="260" dy="8.7">LB/TN</tspan></text>
<text><tspan x="325" y="567">G914</tspan><tspan x="325" dy="8.7">22</tspan><tspan x="325" dy="8.7">PK/GY</tspan></text>
<text><tspan x="516" y="567">P153</tspan><tspan x="516" dy="8.7">16</tspan><tspan x="516" dy="8.7">TN/DG</tspan></text>
<text><tspan x="645" y="567">P151</tspan><tspan x="645" dy="8.7">22</tspan><tspan x="645" dy="8.7">TN/OR</tspan></text>
<text><tspan x="126" y="646">P953</tspan><tspan x="126" dy="8.7">0.5</tspan><tspan x="126" dy="8.7">DG/BG</tspan></text>
<text><tspan x="191" y="646">P152</tspan><tspan x="191" dy="8.7">0.5</tspan><tspan x="191" dy="8.7">BG/LB</tspan></text>
<text><tspan x="260" y="646">P157</tspan><tspan x="260" dy="8.7">0.5</tspan><tspan x="260" dy="8.7">LB/BG</tspan></text>
<text><tspan x="325" y="646">G914</tspan><tspan x="325" dy="8.7">0.5</tspan><tspan x="325" dy="8.7">VT</tspan></text>
<text><tspan x="516" y="646">P153</tspan><tspan x="516" dy="8.7">0.5</tspan><tspan x="516" dy="8.7">BG/DG</tspan></text>
<text><tspan x="645" y="646">P151</tspan><tspan x="645" dy="8.7">0.5</tspan><tspan x="645" dy="8.7">BG/OR</tspan></text>
<text><tspan x="191" y="727">P152</tspan><tspan x="191" dy="8.7">0.35</tspan><tspan x="191" dy="8.7">BG/LB</tspan></text>
<text><tspan x="325" y="727">G914</tspan><tspan x="325" dy="8.7">0.35</tspan><tspan x="325" dy="8.7">VT</tspan></text>
<text><tspan x="516" y="727">P153</tspan><tspan x="516" dy="8.7">0.35</tspan><tspan x="516" dy="8.7">BG/DG</tspan></text>
<text><tspan x="645" y="727">P151</tspan><tspan x="645" dy="8.7">0.35</tspan><tspan x="645" dy="8.7">BG/OR</tspan></text>
<text><tspan x="452" y="814">P953</tspan><tspan x="452" dy="8.7">0.35</tspan><tspan x="452" dy="8.7">DG/BG</tspan></text>
<text><tspan x="579" y="791">G914</tspan><tspan x="579" dy="8.7">0.35</tspan><tspan x="579" dy="8.7">VT</tspan></text>
<text><tspan x="813" y="567">P599</tspan><tspan x="813" dy="8.7">22</tspan><tspan x="813" dy="8.7">LG/TN</tspan></text>
<text><tspan x="889" y="567">P239</tspan><tspan x="889" dy="8.7">22</tspan><tspan x="889" dy="8.7">LG/WT</tspan></text>
<text><tspan x="960" y="567">P9</tspan><tspan x="960" dy="8.7">22</tspan><tspan x="960" dy="8.7">LG/OR</tspan></text>
<text><tspan x="1029" y="567">P339</tspan><tspan x="1029" dy="8.7">22</tspan><tspan x="1029" dy="8.7">LG/DB</tspan></text>
<text><tspan x="1205" y="567">P143</tspan><tspan x="1205" dy="8.7">16</tspan><tspan x="1205" dy="8.7">LG/GY</tspan></text>
<text><tspan x="1270" y="567">P141</tspan><tspan x="1270" dy="8.7">16</tspan><tspan x="1270" dy="8.7">LG/BR</tspan></text>
<text><tspan x="1335" y="567">G493</tspan><tspan x="1335" dy="8.7">22</tspan><tspan x="1335" dy="8.7">OR/PK</tspan></text>
<text><tspan x="1400" y="567">G403</tspan><tspan x="1400" dy="8.7">22</tspan><tspan x="1400" dy="8.7">PK/OR</tspan></text>
<text><tspan x="1205" y="691">P143</tspan><tspan x="1205" dy="8.7">16</tspan><tspan x="1205" dy="8.7">LG/GY</tspan></text>
<text><tspan x="1270" y="691">P141</tspan><tspan x="1270" dy="8.7">16</tspan><tspan x="1270" dy="8.7">LG/BR</tspan></text>
<text><tspan x="1335" y="691">G493</tspan><tspan x="1335" dy="8.7">22</tspan><tspan x="1335" dy="8.7">OR/VT</tspan></text>
<text><tspan x="1400" y="691">G403</tspan><tspan x="1400" dy="8.7">22</tspan><tspan x="1400" dy="8.7">VT/OR</tspan></text>
<text><tspan x="1809" y="567">G200</tspan><tspan x="1809" dy="8.7">0.75</tspan><tspan x="1809" dy="8.7">VT/BR</tspan></text>
<text><tspan x="1874" y="567">G920</tspan><tspan x="1874" dy="8.7">0.75</tspan><tspan x="1874" dy="8.7">VT/YL</tspan></text>
<text><tspan x="1809" y="700">G200</tspan><tspan x="1809" dy="8.7">0.5</tspan><tspan x="1809" dy="8.7">DB</tspan></text>
<text><tspan x="1874" y="700">G920</tspan><tspan x="1874" dy="8.7">0.5</tspan><tspan x="1874" dy="8.7">BR</tspan></text>
</g>

<!-- lower pins -->
<g>
<rect x="34" y="533" width="16" height="12" class="pin"/><text x="42" y="542" class="c">10</text>
<rect x="118" y="533" width="16" height="12" class="pin"/><text x="126" y="542" class="c">6</text>
<rect x="183" y="533" width="16" height="12" class="pin"/><text x="191" y="542" class="c">11</text>
<rect x="252" y="533" width="16" height="12" class="pin"/><text x="260" y="542" class="c">4</text>
<rect x="317" y="533" width="16" height="12" class="pin"/><text x="325" y="542" class="c">12</text>
<rect x="508" y="533" width="16" height="12" class="pin"/><text x="516" y="542" class="c">3</text>
<rect x="637" y="533" width="16" height="12" class="pin"/><text x="645" y="542" class="c">13</text>
<rect x="805" y="533" width="16" height="12" class="pin"/><text x="813" y="542" class="c">1</text>
<rect x="881" y="533" width="16" height="12" class="pin"/><text x="889" y="542" class="c">2</text>
<rect x="952" y="533" width="16" height="12" class="pin"/><text x="960" y="542" class="c">6</text>
<rect x="1021" y="533" width="16" height="12" class="pin"/><text x="1029" y="542" class="c">3</text>
<rect x="1197" y="533" width="16" height="12" class="pin"/><text x="1205" y="542" class="c">4</text>
<rect x="1262" y="533" width="16" height="12" class="pin"/><text x="1270" y="542" class="c">2</text>
<rect x="1327" y="533" width="16" height="12" class="pin"/><text x="1335" y="542" class="c">1</text>
<rect x="1392" y="533" width="16" height="12" class="pin"/><text x="1400" y="542" class="c">5</text>
<rect x="1801" y="533" width="16" height="13" class="pin"/><text x="1809" y="543" class="c">6</text>
<rect x="1866" y="533" width="16" height="13" class="pin"/><text x="1874" y="543" class="c">7</text>
<!-- inline C1 -->
<rect x="118" y="601" width="16" height="11" class="pin"/><text x="126" y="610" class="c">B4</text>
<rect x="118" y="616" width="16" height="11" class="pin"/><text x="126" y="625" class="c">B4</text>
<rect x="183" y="601" width="16" height="11" class="pin"/><text x="191" y="610" class="c">B2</text>
<rect x="183" y="616" width="16" height="11" class="pin"/><text x="191" y="625" class="c">B2</text>
<rect x="252" y="601" width="16" height="11" class="pin"/><text x="260" y="610" class="c">A10</text>
<rect x="252" y="616" width="16" height="11" class="pin"/><text x="260" y="625" class="c">A10</text>
<rect x="317" y="601" width="16" height="11" class="pin"/><text x="325" y="610" class="c">A15</text>
<rect x="317" y="616" width="16" height="11" class="pin"/><text x="325" y="625" class="c">A15</text>
<rect x="508" y="601" width="16" height="11" class="pin"/><text x="516" y="610" class="c">B3</text>
<rect x="508" y="616" width="16" height="11" class="pin"/><text x="516" y="625" class="c">B3</text>
<rect x="637" y="601" width="16" height="11" class="pin"/><text x="645" y="610" class="c">B1</text>
<rect x="637" y="616" width="16" height="11" class="pin"/><text x="645" y="625" class="c">B1</text>
<rect x="118" y="681" width="16" height="11" class="pin"/><text x="126" y="690" class="c">9</text>
<rect x="118" y="696" width="16" height="11" class="pin"/><text x="126" y="705" class="c">9</text>
<rect x="183" y="681" width="16" height="11" class="pin"/><text x="191" y="690" class="c">7</text>
<rect x="183" y="696" width="16" height="11" class="pin"/><text x="191" y="705" class="c">7</text>
<rect x="252" y="681" width="16" height="11" class="pin"/><text x="260" y="690" class="c">3</text>
<rect x="252" y="696" width="16" height="11" class="pin"/><text x="260" y="705" class="c">3</text>
<rect x="317" y="681" width="16" height="11" class="pin"/><text x="325" y="690" class="c">15</text>
<rect x="317" y="696" width="16" height="11" class="pin"/><text x="325" y="705" class="c">15</text>
<rect x="508" y="681" width="16" height="11" class="pin"/><text x="516" y="690" class="c">6</text>
<rect x="508" y="696" width="16" height="11" class="pin"/><text x="516" y="705" class="c">6</text>
<rect x="637" y="681" width="16" height="11" class="pin"/><text x="645" y="690" class="c">2</text>
<rect x="637" y="696" width="16" height="11" class="pin"/><text x="645" y="705" class="c">2</text>
<!-- inline C4 -->
<rect x="1197" y="642" width="16" height="11" class="pin"/><text x="1205" y="651" class="c">6</text>
<rect x="1197" y="658" width="16" height="11" class="pin"/><text x="1205" y="667" class="c">6</text>
<rect x="1262" y="642" width="16" height="11" class="pin"/><text x="1270" y="651" class="c">5</text>
<rect x="1262" y="658" width="16" height="11" class="pin"/><text x="1270" y="667" class="c">5</text>
<rect x="1327" y="642" width="16" height="11" class="pin"/><text x="1335" y="651" class="c">7</text>
<rect x="1327" y="658" width="16" height="11" class="pin"/><text x="1335" y="667" class="c">7</text>
<rect x="1392" y="642" width="16" height="11" class="pin"/><text x="1400" y="651" class="c">8</text>
<rect x="1392" y="658" width="16" height="11" class="pin"/><text x="1400" y="667" class="c">8</text>
<!-- inline memory -->
<rect x="1801" y="647" width="16" height="11" class="pin"/><text x="1809" y="656" class="c">1</text>
<rect x="1801" y="663" width="16" height="11" class="pin"/><text x="1809" y="672" class="c">1</text>
<rect x="1866" y="647" width="16" height="11" class="pin"/><text x="1874" y="656" class="c">2</text>
<rect x="1866" y="663" width="16" height="11" class="pin"/><text x="1874" y="672" class="c">2</text>
<!-- bottom pins -->
<rect x="118" y="844" width="16" height="12" class="pin"/><text x="126" y="853" class="c">1</text>
<rect x="183" y="844" width="16" height="12" class="pin"/><text x="191" y="853" class="c">2</text>
<rect x="252" y="844" width="16" height="12" class="pin"/><text x="260" y="853" class="c">3</text>
<rect x="317" y="844" width="16" height="12" class="pin"/><text x="325" y="853" class="c">4</text>
<rect x="444" y="844" width="16" height="12" class="pin"/><text x="452" y="853" class="c">1</text>
<rect x="508" y="844" width="16" height="12" class="pin"/><text x="516" y="853" class="c">2</text>
<rect x="571" y="844" width="16" height="12" class="pin"/><text x="579" y="853" class="c">3</text>
<rect x="637" y="844" width="16" height="12" class="pin"/><text x="645" y="853" class="c">4</text>
<rect x="805" y="844" width="16" height="12" class="pin"/><text x="813" y="853" class="c">1</text>
<rect x="881" y="844" width="16" height="12" class="pin"/><text x="889" y="853" class="c">4</text>
<rect x="952" y="844" width="16" height="12" class="pin"/><text x="960" y="853" class="c">10</text>
<rect x="1021" y="844" width="16" height="12" class="pin"/><text x="1029" y="853" class="c">11</text>
<rect x="1197" y="844" width="16" height="12" class="pin"/><text x="1205" y="853" class="c">1</text>
<rect x="1262" y="844" width="16" height="12" class="pin"/><text x="1270" y="853" class="c">2</text>
<rect x="1327" y="844" width="16" height="12" class="pin"/><text x="1335" y="853" class="c">3</text>
<rect x="1392" y="844" width="16" height="12" class="pin"/><text x="1400" y="853" class="c">4</text>
<rect x="1801" y="844" width="16" height="12" class="pin"/><text x="1809" y="853" class="c">5</text>
<rect x="1866" y="844" width="16" height="12" class="pin"/><text x="1874" y="853" class="c">6</text>
</g>

<!-- bottom boxes -->
<rect x="89" y="856" width="268" height="69" class="bx"/>
<rect x="418" y="856" width="260" height="69" class="bx"/>
<rect x="773" y="856" width="297" height="69" class="bx"/>
<rect x="1168" y="856" width="272" height="69" class="bx"/>
<rect x="1760" y="856" width="167" height="69" class="bx"/>
<text><tspan x="361" y="864">MOTOR-</tspan><tspan x="361" dy="8.7">STEERING</tspan><tspan x="361" dy="8.7">TELESCOPE</tspan></text>
<text><tspan x="682" y="864">MOTOR-</tspan><tspan x="682" dy="8.7">STEERING</tspan><tspan x="682" dy="8.7">TILT</tspan></text>
<text><tspan x="1074" y="864">SWITCH-</tspan><tspan x="1074" dy="8.7">SEAT-</tspan><tspan x="1074" dy="8.7">DRIVER</tspan></text>
<text><tspan x="1444" y="864">MOTOR-</tspan><tspan x="1444" dy="8.7">SEAT</tspan><tspan x="1444" dy="8.7">ADJUSTER-</tspan><tspan x="1444" dy="8.7">DRIVER</tspan><tspan x="1444" dy="8.7">RECLINER</tspan></text>
<text><tspan x="1931" y="864">SWITCH-</tspan><tspan x="1931" dy="8.7">MEMORY</tspan><tspan x="1931" dy="8.7">SET</tspan></text>
<g class="c">
<text><tspan x="126" y="866">STEERING</tspan><tspan x="126" dy="8.7">MOTOR</tspan><tspan x="126" dy="8.7">COMMON</tspan></text>
<text><tspan x="191" y="866">TELESCOPE</tspan><tspan x="191" dy="8.7">STEERING</tspan><tspan x="191" dy="8.7">FORWARD/</tspan><tspan x="191" dy="8.7">REARWARD</tspan><tspan x="191" dy="8.7">POSITION</tspan><tspan x="191" dy="8.7">SENSE</tspan></text>
<text><tspan x="260" y="866">TELESCOPE</tspan><tspan x="260" dy="8.7">STEERING</tspan><tspan x="260" dy="8.7">MOTOR</tspan><tspan x="260" dy="8.7">FORWARD/</tspan><tspan x="260" dy="8.7">REARWARD</tspan><tspan x="260" dy="8.7">DRIVER</tspan></text>
<text><tspan x="325" y="866">SENSOR</tspan><tspan x="325" dy="8.7">GROUND</tspan></text>
<text><tspan x="452" y="866">STEERING</tspan><tspan x="452" dy="8.7">MOTOR</tspan><tspan x="452" dy="8.7">COMMON</tspan></text>
<text><tspan x="516" y="866">TILT</tspan><tspan x="516" dy="8.7">STEERING</tspan><tspan x="516" dy="8.7">MOTOR</tspan><tspan x="516" dy="8.7">UP/DOWN</tspan><tspan x="516" dy="8.7">DRIVER</tspan></text>
<text><tspan x="579" y="866">SENSOR</tspan><tspan x="579" dy="8.7">GROUND</tspan></text>
<text><tspan x="645" y="866">TILT</tspan><tspan x="645" dy="8.7">STEERING</tspan><tspan x="645" dy="8.7">UP/DOWN</tspan><tspan x="645" dy="8.7">POSITION</tspan><tspan x="645" dy="8.7">SENSE</tspan></text>
<text><tspan x="813" y="866">DRIVER</tspan><tspan x="813" dy="8.7">SEAT</tspan><tspan x="813" dy="8.7">SWITCH</tspan><tspan x="813" dy="8.7">MUX</tspan><tspan x="813" dy="8.7">RETURN</tspan></text>
<text><tspan x="889" y="866">DRIVER</tspan><tspan x="889" dy="8.7">SEAT</tspan><tspan x="889" dy="8.7">FRONT</tspan><tspan x="889" dy="8.7">VERTICAL/</tspan><tspan x="889" dy="8.7">RECLINER</tspan><tspan x="889" dy="8.7">SWITCH MUX</tspan></text>
<text><tspan x="960" y="866">SEAT</tspan><tspan x="960" dy="8.7">SWITCH</tspan><tspan x="960" dy="8.7">B(+)</tspan><tspan x="960" dy="8.7">SUPPLY</tspan></text>
<text><tspan x="1029" y="866">DRIVER</tspan><tspan x="1029" dy="8.7">SEAT</tspan><tspan x="1029" dy="8.7">FRONT</tspan><tspan x="1029" dy="8.7">VERTICAL/</tspan><tspan x="1029" dy="8.7">RECLINER</tspan><tspan x="1029" dy="8.7">SWITCH MUX</tspan></text>
<text><tspan x="1205" y="866">DRIVER</tspan><tspan x="1205" dy="8.7">SEAT</tspan><tspan x="1205" dy="8.7">RECLINER</tspan><tspan x="1205" dy="8.7">DOWN</tspan><tspan x="1205" dy="8.7">DRIVER</tspan></text>
<text><tspan x="1270" y="866">DRIVER</tspan><tspan x="1270" dy="8.7">SEAT</tspan><tspan x="1270" dy="8.7">RECLINER</tspan><tspan x="1270" dy="8.7">UP</tspan><tspan x="1270" dy="8.7">DRIVER</tspan></text>
<text><tspan x="1335" y="866">POSITION</tspan><tspan x="1335" dy="8.7">SENSOR</tspan><tspan x="1335" dy="8.7">GROUND</tspan></text>
<text><tspan x="1400" y="866">DRIVER</tspan><tspan x="1400" dy="8.7">SEAT</tspan><tspan x="1400" dy="8.7">RECLINER</tspan><tspan x="1400" dy="8.7">POSITION</tspan><tspan x="1400" dy="8.7">SENSE</tspan></text>
<text><tspan x="1809" y="866">MEMORY</tspan><tspan x="1809" dy="8.7">SELECT</tspan><tspan x="1809" dy="8.7">SWITCH</tspan><tspan x="1809" dy="8.7">MUX</tspan></text>
<text><tspan x="1874" y="866">MEMORY</tspan><tspan x="1874" dy="8.7">SELECT</tspan><tspan x="1874" dy="8.7">SWITCH</tspan><tspan x="1874" dy="8.7">RETURN</tspan></text>
</g>
</svg>
</body></html>
